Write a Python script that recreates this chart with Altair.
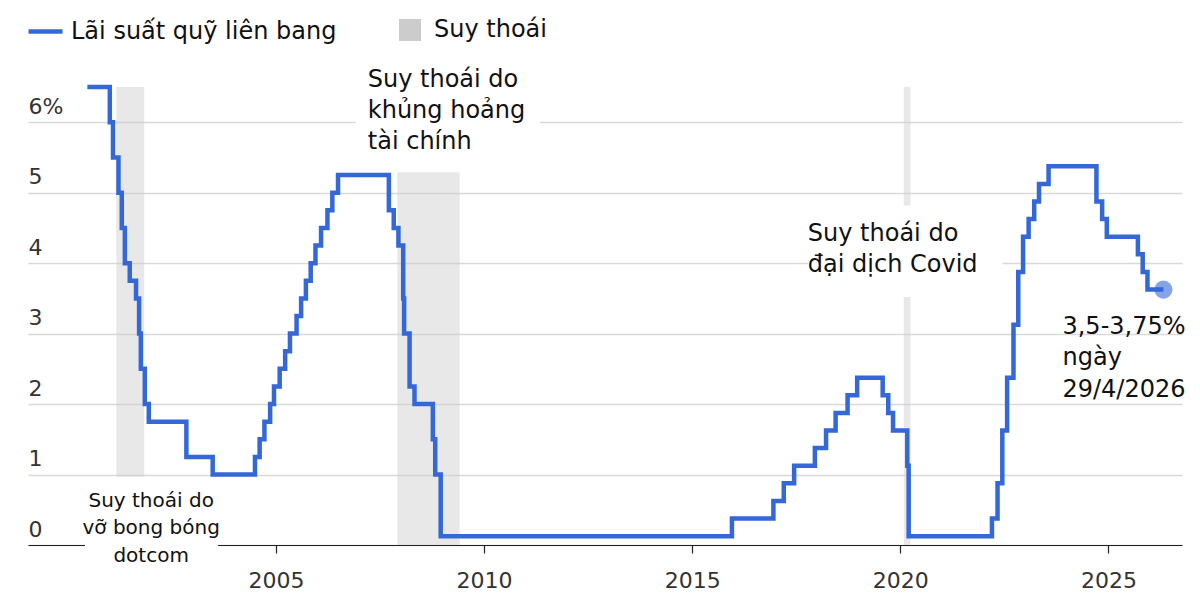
import altair as alt
import pandas as pd

# ---------------- data ----------------
series_name = "Lãi suất quỹ liên bang"
recession_name = "Suy thoái"

rate_dates = [
    "2000-06-20", "2001-01-03", "2001-01-31", "2001-03-20", "2001-04-18", "2001-05-15",
    "2001-06-27", "2001-08-21", "2001-09-17", "2001-10-02", "2001-11-06", "2001-12-11",
    "2002-11-06", "2003-06-25", "2004-06-30", "2004-08-10", "2004-09-21", "2004-11-10",
    "2004-12-14", "2005-02-02", "2005-03-22", "2005-05-03", "2005-06-30", "2005-08-09",
    "2005-09-20", "2005-11-01", "2005-12-13", "2006-01-31", "2006-03-28", "2006-05-10",
    "2006-06-29", "2007-09-18", "2007-10-31", "2007-12-11", "2008-01-22", "2008-01-30",
    "2008-03-18", "2008-04-30", "2008-10-08", "2008-10-29", "2008-12-16", "2015-12-16",
    "2016-12-14", "2017-03-15", "2017-06-14", "2017-12-13", "2018-03-21", "2018-06-13",
    "2018-09-26", "2018-12-19", "2019-07-31", "2019-09-18", "2019-10-30", "2020-03-03",
    "2020-03-15", "2022-03-16", "2022-05-04", "2022-06-15", "2022-07-27", "2022-09-21",
    "2022-11-02", "2022-12-14", "2023-02-01", "2023-03-22", "2023-05-03", "2023-07-26",
    "2024-09-18", "2024-11-07", "2024-12-18", "2025-09-17", "2025-10-29", "2025-12-10",
    "2026-04-29",
]
rate_values = [
    6.5, 6.0, 5.5, 5.0, 4.5, 4.0,
    3.75, 3.5, 3.0, 2.5, 2.0, 1.75,
    1.25, 1.0, 1.25, 1.5, 1.75, 2.0,
    2.25, 2.5, 2.75, 3.0, 3.25, 3.5,
    3.75, 4.0, 4.25, 4.5, 4.75, 5.0,
    5.25, 4.75, 4.5, 4.25, 3.5, 3.0,
    2.25, 2.0, 1.5, 1.0, 0.125, 0.375,
    0.625, 0.875, 1.125, 1.375, 1.625, 1.875,
    2.125, 2.375, 2.125, 1.875, 1.625, 1.125,
    0.125, 0.375, 0.875, 1.625, 2.375, 3.125,
    3.875, 4.375, 4.625, 4.875, 5.125, 5.375,
    4.875, 4.625, 4.375, 4.125, 3.875, 3.625,
    3.625,
]

recession_start = ["2001-03-01", "2007-12-01", "2020-02-01"]
recession_end = ["2001-11-01", "2009-06-01", "2020-04-01"]

y_ticks = [0, 1, 2, 3, 4, 5, 6]
x_tick_years = [2005, 2010, 2015, 2020, 2025]

note_texts = [
    "Suy thoái do\nkhủng hoảng\ntài chính",
    "Suy thoái do\nđại dịch Covid",
    "Suy thoái do\nvỡ bong bóng\ndotcom",
    "3,5-3,75%\nngày\n29/4/2026",
]
note_dates = ["2007-03-17", "2017-10-12", "2002-01-01", "2023-11-25"]
note_values = [6.50, 4.32, 0.54, 3.0]
note_sizes = [24, 24, 20, 24]
note_aligns = ["left", "left", "center", "left"]
note_line_heights = [31, 31, 27.5, 31.5]

# white boxes behind the notes (in data units)
mask_start = ["2006-12-01", "2017-10-12", "2000-05-30"]
mask_end = ["2011-05-04", "2022-06-17", "2003-08-12"]
mask_low = [5.29, 3.52, -0.35]
mask_high = [6.8, 4.82, 0.97]

# ---------------- style ----------------
W, H = 1154, 458
BLUE = "#3468d8"
FONT = "DejaVu Sans"

rates = pd.DataFrame({"date": rate_dates, "rate": rate_values, "series": series_name})
recessions = pd.DataFrame({"start": recession_start, "end": recession_end, "kind": recession_name})
masks = pd.DataFrame({"start": mask_start, "end": mask_end, "low": mask_low, "high": mask_high})
last = rates.tail(1)

x_scale = alt.Scale(
    type="utc",
    domain=[alt.DateTime(year=1999, month=1, date=16, utc=True),
            alt.DateTime(year=2026, month=10, date=9, utc=True)],
)
y_scale = alt.Scale(domain=[0, 6.5], nice=False, zero=False)

x_axis = alt.Axis(
    values=[alt.DateTime(year=y, month=1, date=1, utc=True) for y in x_tick_years],
    format="%Y", title=None, grid=False,
    domainColor="#222222", domainWidth=1.2,
    tickColor="#222222", tickSize=8, tickWidth=1.2,
    labelFontSize=22, labelColor="#333333", labelPadding=17, labelFont=FONT,
    labelFlush=False,
)
y_axis = alt.Axis(
    values=y_ticks, title=None,
    labelExpr="datum.value == 6 ? '6%' : datum.label",
    labelAlign="left", labelBaseline="alphabetic", labelPadding=0, labelOffset=-9,
    ticks=False, tickSize=0, domain=False,
    grid=True, gridColor="#d9d9d9", gridWidth=1.5,
    labelFontSize=22, labelColor="#333333", labelFont=FONT, labelFlush=False,
)

bands = alt.Chart(recessions).mark_rect(opacity=0.45).encode(
    x=alt.X("start:T", scale=x_scale, axis=x_axis),
    x2="end:T",
    fill=alt.Fill(
        "kind:N",
        scale=alt.Scale(domain=[recession_name], range=["#cccccc"]),
        legend=alt.Legend(
            title=None, orient="none", legendX=370, legendY=-69,
            symbolType="square", symbolSize=484, symbolOpacity=1, symbolStrokeWidth=0,
            labelFontSize=24, labelFont=FONT, labelColor="#111111",
            labelOffset=12, labelLimit=400, padding=0,
        ),
    ),
)

mask_layer = alt.Chart(masks).mark_rect(color="white", opacity=1).encode(
    x=alt.X("start:T", scale=x_scale, axis=x_axis),
    x2="end:T",
    y=alt.Y("low:Q", scale=y_scale, axis=y_axis),
    y2="high:Q",
)

line = alt.Chart(rates).mark_line(
    interpolate="step-after", strokeWidth=4.5, strokeJoin="miter", strokeCap="butt"
).encode(
    x=alt.X("date:T", scale=x_scale, axis=x_axis),
    y=alt.Y("rate:Q", scale=y_scale, axis=y_axis),
    stroke=alt.Stroke(
        "series:N",
        scale=alt.Scale(domain=[series_name], range=[BLUE]),
        legend=alt.Legend(
            title=None, orient="none", legendX=-2, legendY=-75,
            symbolType="stroke", symbolSize=1156, symbolStrokeWidth=4.5,
            labelFontSize=24, labelFont=FONT, labelColor="#111111",
            labelOffset=6, labelLimit=400, padding=0,
        ),
    ),
)

dot = alt.Chart(last).mark_circle(size=330, color=BLUE, opacity=0.6).encode(
    x=alt.X("date:T", scale=x_scale, axis=x_axis),
    y=alt.Y("rate:Q", scale=y_scale, axis=y_axis),
)

note_layers = []
for t, d, v, s, a, lh in zip(note_texts, note_dates, note_values, note_sizes,
                             note_aligns, note_line_heights):
    df = pd.DataFrame({"date": [d], "value": [v], "label": [t]})
    note_layers.append(
        alt.Chart(df).mark_text(
            align=a, baseline="alphabetic", fontSize=s, font=FONT,
            color="#111111", lineBreak="\n", lineHeight=lh,
        ).encode(
            x=alt.X("date:T", scale=x_scale, axis=x_axis),
            y=alt.Y("value:Q", scale=y_scale, axis=y_axis),
            text="label:N",
        )
    )

chart = alt.layer(bands, mask_layer, line, dot, *note_layers).properties(
    width=W, height=H,
    autosize=alt.AutoSizeParams(type="none"),
    padding={"left": 20, "top": 79, "right": 10, "bottom": 60},
).configure(font=FONT).configure_view(stroke=None)

chart.save("out.html", embed_options={"renderer": "svg", "actions": False})
